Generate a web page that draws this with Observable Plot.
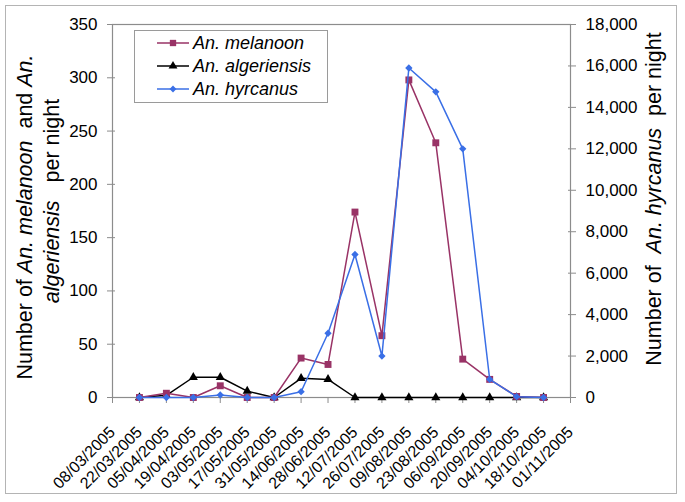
<!DOCTYPE html>
<html><head><meta charset="utf-8">
<script src="https://cdn.jsdelivr.net/npm/d3@7"></script>
<script src="https://cdn.jsdelivr.net/npm/@observablehq/plot@0.6"></script>
<style>
body{margin:0;background:#fff;font-family:"Liberation Sans",Arial,sans-serif;}
#wrap{position:relative;width:685px;height:502px;overflow:hidden;background:#fff;}
#wrap > svg, #wrap > div{position:absolute;left:0;top:0;}
#border{left:5px !important;top:5px !important;width:670px;height:487px;border:1.5px solid #b4b4b4;}
.pre{white-space:pre;}
</style></head><body><div id="wrap"><div id="border"></div></div>
<script>
// ---- data ----
const tickLabels = ["08/03/2005","22/03/2005","05/04/2005","19/04/2005","03/05/2005","17/05/2005","31/05/2005","14/06/2005","28/06/2005","12/07/2005","26/07/2005","09/08/2005","23/08/2005","06/09/2005","20/09/2005","04/10/2005","18/10/2005","01/11/2005"];
const sampleDates = ["22/03/2005","05/04/2005","19/04/2005","03/05/2005","17/05/2005","31/05/2005","14/06/2005","28/06/2005","12/07/2005","26/07/2005","09/08/2005","23/08/2005","06/09/2005","20/09/2005","04/10/2005","18/10/2005"];
const melanoon    = [0, 4, 0, 11, 0, 0, 37, 31, 174, 58, 298, 239, 36, 17, 1, 0];
const algeriensis = [0, 2, 19, 19, 6, 0, 18, 17, 0, 0, 0, 0, 0, 0, 0, 0];
const hyrcanus    = [0, 0, 0, 120, 0, 0, 280, 3100, 6900, 2000, 15900, 14750, 12000, 880, 40, 0];
const leftTicks  = [0, 50, 100, 150, 200, 250, 300, 350];
const rightTicks = [0, 2000, 4000, 6000, 8000, 10000, 12000, 14000, 16000, 18000];
const seriesNames = ["An. melanoon", "An. algeriensis", "An. hyrcanus"];
const colors = {mel: "#993366", alg: "#000000", hyr: "#3a6fe6"};

const parse = d3.utcParse("%d/%m/%Y");
const fmt = d3.utcFormat("%d/%m/%Y");
const tickDates = tickLabels.map(parse);
const mk = vals => sampleDates.map((d, i) => ({date: parse(d), value: vals[i]}));
const melData = mk(melanoon), algData = mk(algeriensis), hyrData = mk(hyrcanus);

const common = {
  width: 685, height: 502,
  marginLeft: 112, marginRight: 115, marginTop: 24, marginBottom: 105,
  x: {type: "utc", domain: [tickDates[0], tickDates[tickDates.length - 1]]},
  style: {fontFamily: "'Liberation Sans', Arial, sans-serif", background: "transparent", overflow: "visible", color: "#000"}
};

const p1 = Plot.plot({
  ...common,
  y: {domain: [0, 350]},
  marks: [
    Plot.frame({stroke: "#8c8c8c", strokeWidth: 1.2}),
    Plot.axisY({ticks: leftTicks, tickSize: 8, dx: 3, tickPadding: 10, fontSize: 17, label: null, stroke: "#8c8c8c", fill: "#000"}),
    Plot.axisX({ticks: tickDates, tickFormat: fmt, tickRotate: -45, tickSize: 6, tickPadding: 26, fontSize: 16, label: null, stroke: "#8c8c8c", fill: "#000"}),
    Plot.line(algData, {x: "date", y: "value", stroke: colors.alg, strokeWidth: 1.5}),
    Plot.dot(algData, {x: "date", y: "value", symbol: "triangle", r: 3.4, fill: colors.alg, stroke: "none"}),
    Plot.line(melData, {x: "date", y: "value", stroke: colors.mel, strokeWidth: 1.5}),
    Plot.dot(melData, {x: "date", y: "value", symbol: "square", r: 3.9, fill: colors.mel, stroke: "none"})
  ]
});

const p2 = Plot.plot({
  ...common,
  x: {...common.x, axis: null},
  y: {domain: [0, 18000], axis: null},
  marks: [
    Plot.axisY({anchor: "right", ticks: rightTicks, tickFormat: d3.format(","), tickSize: 8, dx: -3, tickPadding: 10, fontSize: 17, label: null, stroke: "#8c8c8c", fill: "#000"}),
    Plot.line(hyrData, {x: "date", y: "value", stroke: colors.hyr, strokeWidth: 1.5}),
    Plot.dot(hyrData, {x: "date", y: "value", symbol: "diamond2", r: 3.3, fill: colors.hyr, stroke: "none"})
  ]
});

const wrap = document.getElementById("wrap");
wrap.appendChild(p1);
wrap.appendChild(p2);

// ---- titles & legend overlay ----
const ov = d3.select(wrap).append("svg").attr("width", 685).attr("height", 502)
  .style("font-family", "'Liberation Sans', Arial, sans-serif");

function title(x, y, parts) {
  const t = ov.append("text").attr("class", "pre").attr("xml:space", "preserve")
    .attr("transform", `translate(${x},${y}) rotate(-90)`)
    .attr("text-anchor", "middle").attr("font-size", 21.5).attr("fill", "#000");
  parts.forEach(([s, it]) => t.append("tspan").attr("class", "pre").text(s).attr("font-style", it ? "italic" : "normal"));
}
title(32, 217, [["Number of ", false], ["An. melanoon", true], ["  and ", false], ["An.", true]]);
title(59, 201, [["algeriensis", true], ["   per night", false]]);
title(661, 199, [["Number of  ", false], ["An. hyrcanus", true], ["  per night", false]]);

// legend
const lg = ov.append("g");
lg.append("rect").attr("x", 134.5).attr("y", 30.5).attr("width", 193).attr("height", 72)
  .attr("fill", "#fff").attr("stroke", "#9a9a9a").attr("stroke-width", 1);
const items = [
  {name: seriesNames[0], color: colors.mel, sym: d3.symbolSquare, size: 40},
  {name: seriesNames[1], color: colors.alg, sym: d3.symbolTriangle, size: 34},
  {name: seriesNames[2], color: colors.hyr, sym: d3.symbolDiamond2, size: 30}
];
items.forEach((it, i) => {
  const y = 43 + i * 23;
  lg.append("line").attr("x1", 157).attr("x2", 189).attr("y1", y).attr("y2", y)
    .attr("stroke", it.color).attr("stroke-width", 1.5);
  lg.append("path").attr("d", d3.symbol(it.sym, it.size)()).attr("transform", `translate(173,${y})`).attr("fill", it.color);
  lg.append("text").attr("x", 193).attr("y", y).attr("dy", "0.36em").attr("font-size", 18)
    .attr("font-style", "italic").attr("fill", "#000").text(it.name);
});
</script>
</body></html>
